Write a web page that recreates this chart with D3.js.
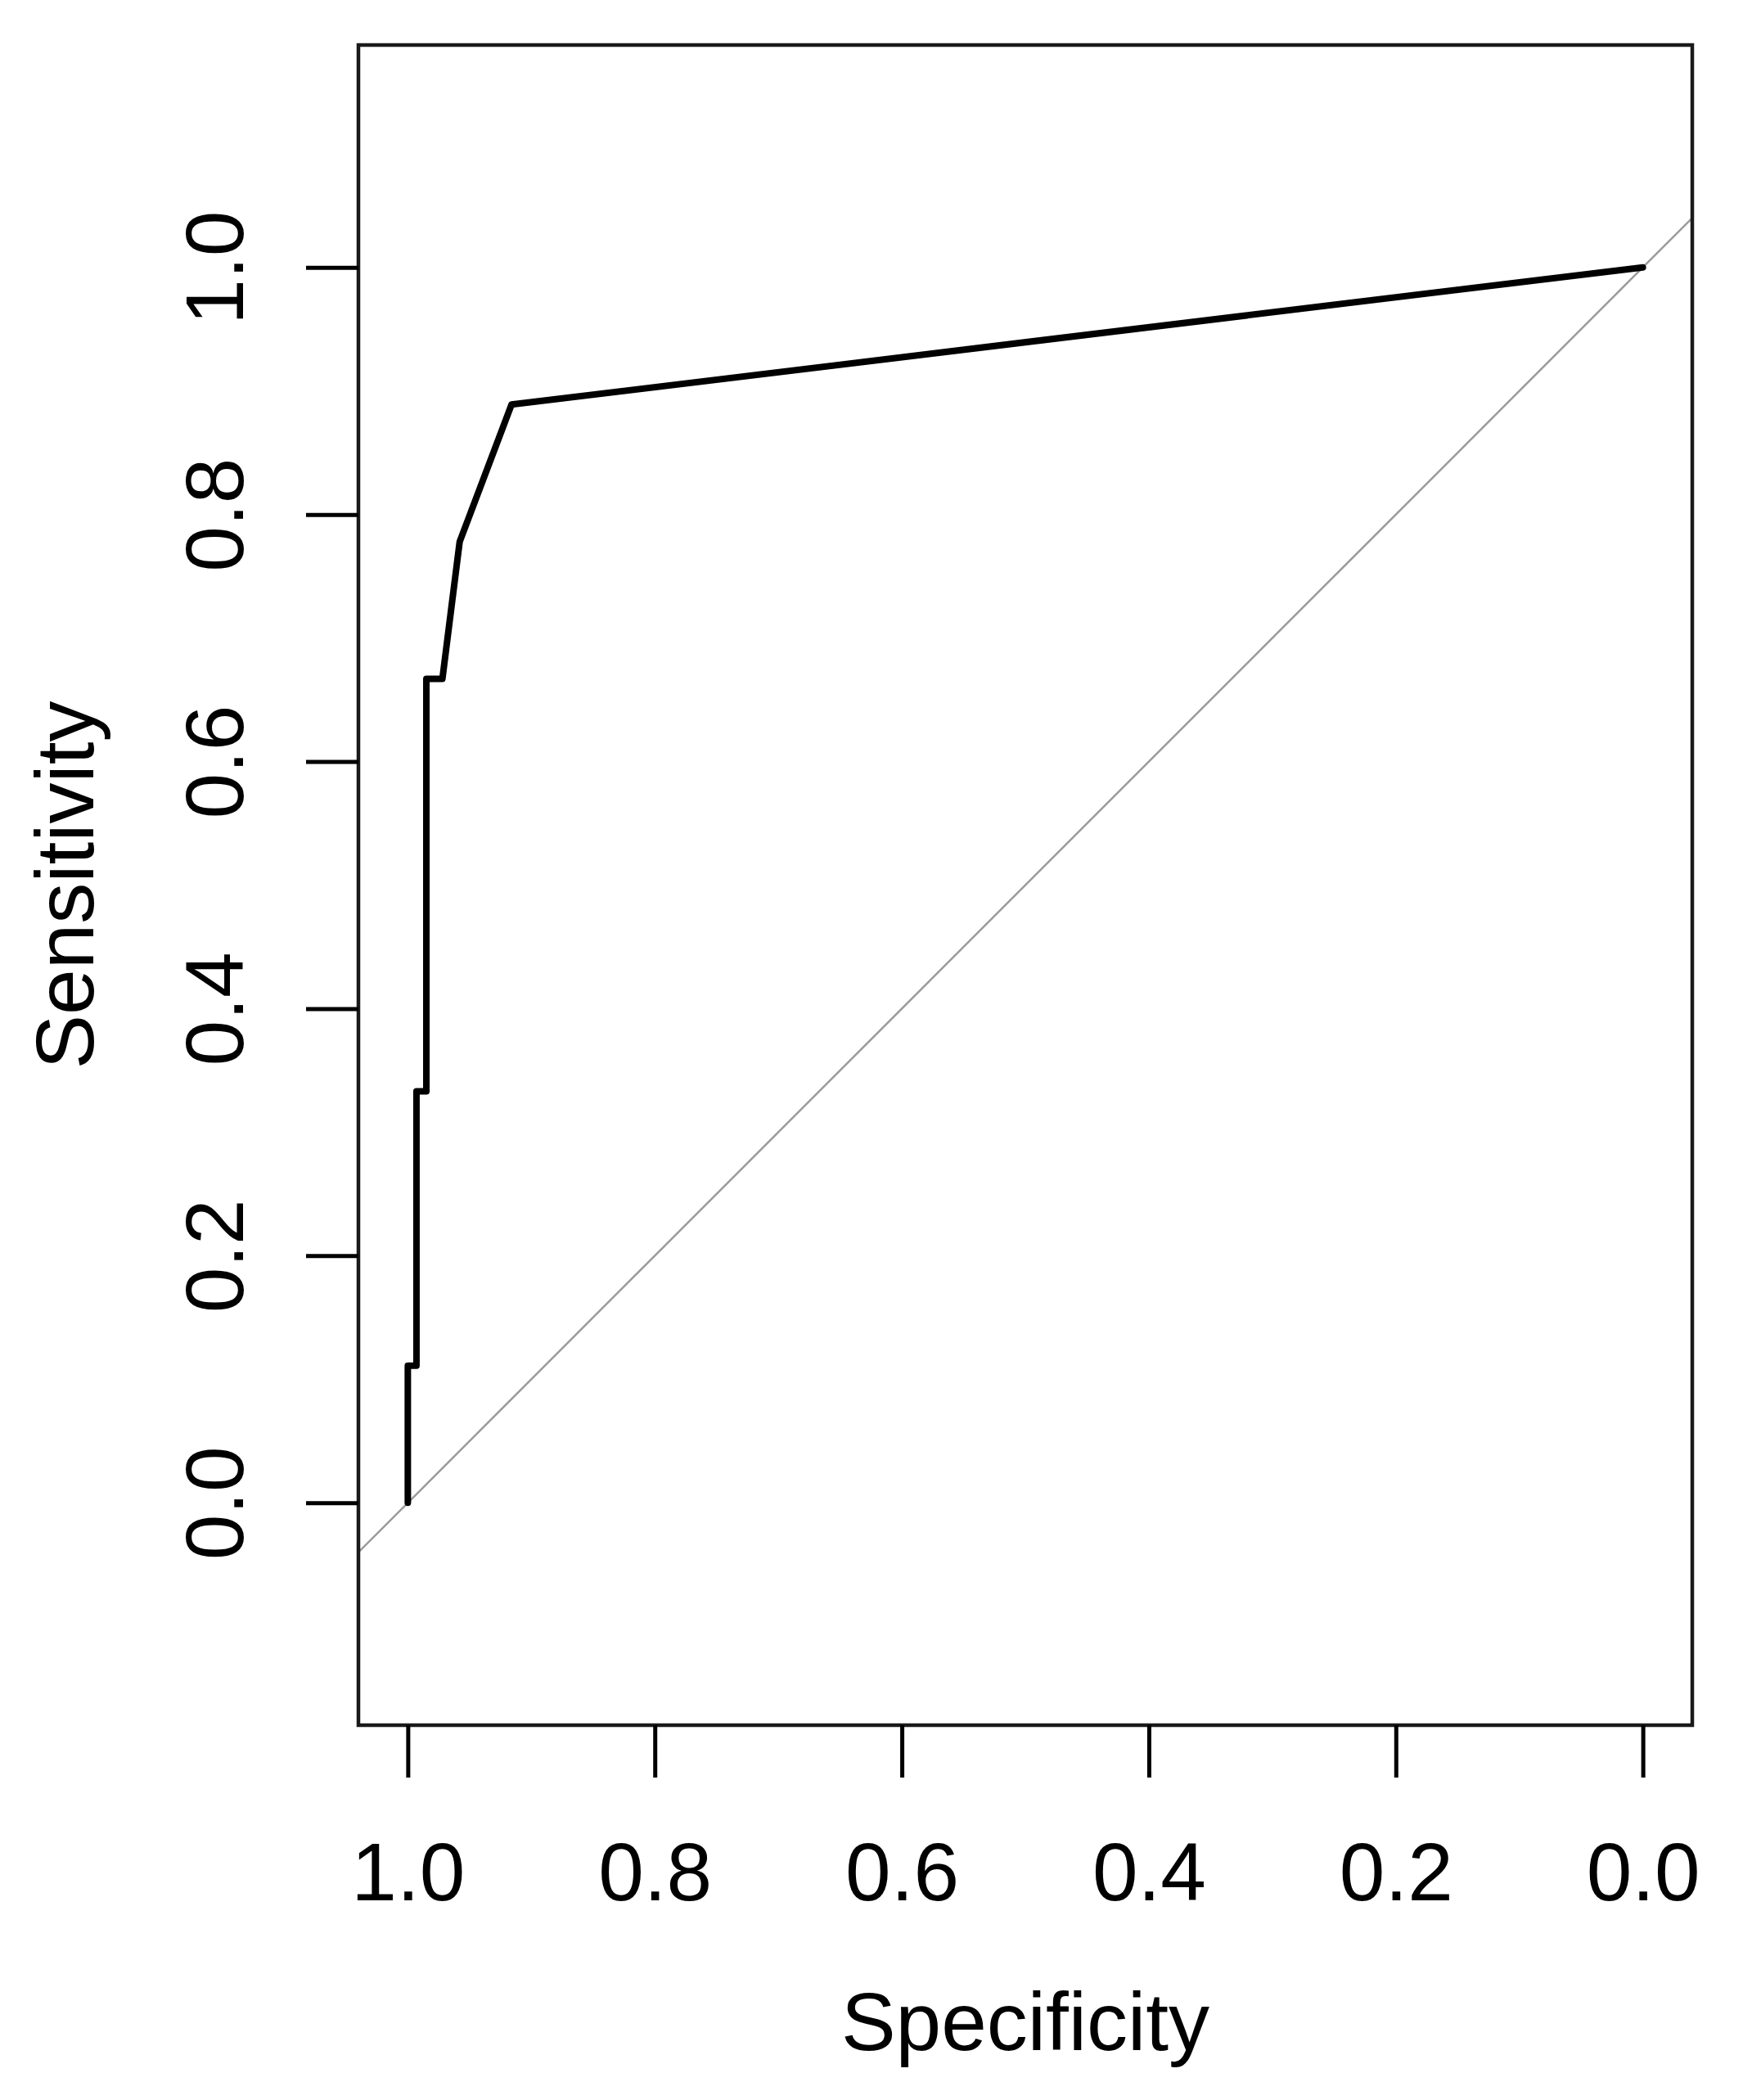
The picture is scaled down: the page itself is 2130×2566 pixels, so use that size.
<!DOCTYPE html>
<html>
<head>
<meta charset="utf-8">
<script src="https://cdn.jsdelivr.net/npm/d3@7"></script>
<style>
  html, body { margin: 0; padding: 0; background: #ffffff; }
  svg { display: block; }
  text { font-family: "Liberation Sans", Arial, sans-serif; fill: #000; }
</style>
</head>
<body>
<svg id="chart" width="2130" height="2566"></svg>
<script>
// ---- data ----
const specificity = [1.0, 1.0, 0.993, 0.993, 0.985, 0.985, 0.972, 0.958, 0.916, 0.0];
const sensitivity = [0.0, 0.111, 0.111, 0.333, 0.333, 0.667, 0.667, 0.778, 0.889, 1.0];
const xTicks = [1.0, 0.8, 0.6, 0.4, 0.2, 0.0];
const yTicks = [0.0, 0.2, 0.4, 0.6, 0.8, 1.0];
const xTitle = "Specificity";
const yTitle = "Sensitivity";
const xDomain = [1.04, -0.04];
const yDomain = [-0.18, 1.18];

// ---- layout ----
const W = 2130, H = 2566;
const plot = { left: 438, right: 2068, top: 55, bottom: 2108 };
const FONT = 100;

const svg = d3.select("#chart");
svg.append("rect").attr("x", 0).attr("y", 0).attr("width", W).attr("height", H).attr("fill", "#fff");

const x = d3.scaleLinear().domain(xDomain).range([plot.left, plot.right]);
const y = d3.scaleLinear().domain(yDomain).range([plot.bottom, plot.top]);

// clip
svg.append("defs").append("clipPath").attr("id", "clip")
  .append("rect")
  .attr("x", plot.left).attr("y", plot.top)
  .attr("width", plot.right - plot.left).attr("height", plot.bottom - plot.top);

const g = svg.append("g").attr("clip-path", "url(#clip)");

// diagonal reference line (sens = 1 - spec), across full domain
const diag = xDomain.map(s => ({ s: s, v: 1 - s }));
g.append("path")
  .datum(diag)
  .attr("d", d3.line().x(d => x(d.s)).y(d => y(d.v)))
  .attr("fill", "none")
  .attr("stroke", "#9a9a9a")
  .attr("stroke-width", 2.5);

// ROC curve
const pts = specificity.map((s, i) => ({ s: s, v: sensitivity[i] }));
g.append("path")
  .datum(pts)
  .attr("d", d3.line().x(d => x(d.s)).y(d => y(d.v)))
  .attr("fill", "none")
  .attr("stroke", "#000")
  .attr("stroke-width", 8)
  .attr("stroke-linejoin", "round")
  .attr("stroke-linecap", "round");

// box
svg.append("rect")
  .attr("x", plot.left).attr("y", plot.top)
  .attr("width", plot.right - plot.left).attr("height", plot.bottom - plot.top)
  .attr("fill", "none").attr("stroke", "#1a1a1a").attr("stroke-width", 4.5);

// x axis
const xAxis = svg.append("g")
  .attr("transform", `translate(0,${plot.bottom})`)
  .call(d3.axisBottom(x).tickValues(xTicks).tickSize(64).tickFormat(d3.format(".1f")));
xAxis.select(".domain").remove();
xAxis.selectAll(".tick line").attr("stroke", "#000").attr("stroke-width", 5);
xAxis.selectAll(".tick text")
  .attr("y", 214).attr("dy", 0)
  .attr("font-size", FONT)
  .attr("font-family", "Liberation Sans, Arial, sans-serif")
  .attr("fill", "#000")
  .attr("text-anchor", "middle");

// y axis
const yAxis = svg.append("g")
  .attr("transform", `translate(${plot.left},0)`)
  .call(d3.axisLeft(y).tickValues(yTicks).tickSize(64).tickFormat(d3.format(".1f")));
yAxis.select(".domain").remove();
yAxis.selectAll(".tick line").attr("stroke", "#000").attr("stroke-width", 5);
yAxis.selectAll(".tick text")
  .attr("x", 0).attr("y", -141).attr("dy", 0)
  .attr("transform", "rotate(-90)")
  .attr("font-size", FONT)
  .attr("font-family", "Liberation Sans, Arial, sans-serif")
  .attr("fill", "#000")
  .attr("text-anchor", "middle");

// titles
svg.append("text")
  .attr("x", (plot.left + plot.right) / 2)
  .attr("y", 2505)
  .attr("text-anchor", "middle")
  .attr("font-size", FONT)
  .text(xTitle);

svg.append("text")
  .attr("transform", `translate(114,${(plot.top + plot.bottom) / 2}) rotate(-90)`)
  .attr("text-anchor", "middle")
  .attr("font-size", FONT)
  .text(yTitle);
</script>
</body>
</html>
